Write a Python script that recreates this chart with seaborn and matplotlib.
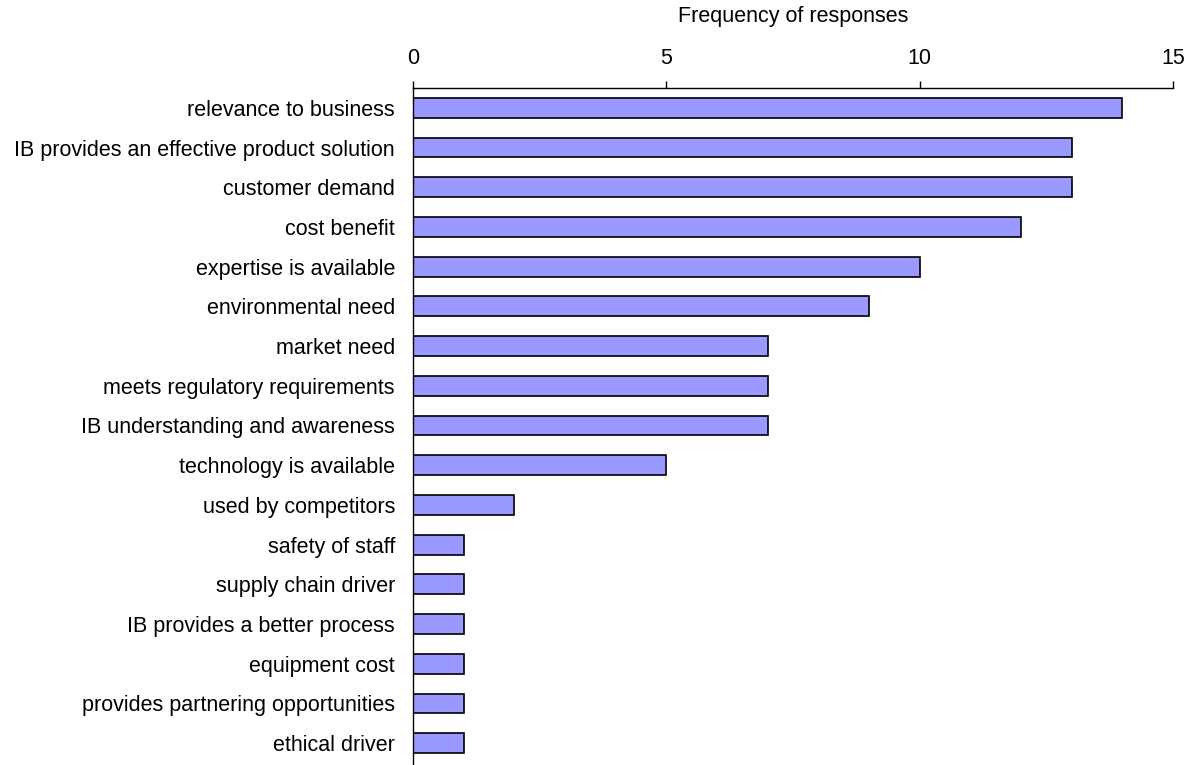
import pandas as pd
import seaborn as sns
import matplotlib.pyplot as plt

# Data
reasons = ['relevance to business', 'IB provides an effective product solution',
           'customer demand', 'cost benefit', 'expertise is available',
           'environmental need', 'market need', 'meets regulatory requirements',
           'IB understanding and awareness', 'technology is available',
           'used by competitors', 'safety of staff', 'supply chain driver',
           'IB provides a better process', 'equipment cost',
           'provides partnering opportunities', 'ethical driver']
counts = [14, 13, 13, 12, 10, 9, 7, 7, 7, 5, 2, 1, 1, 1, 1, 1, 1]
xticks = [0, 5, 10, 15]

data = pd.DataFrame({'Reason': reasons, 'Count': counts})

sns.set_style('white')
plt.rcParams['font.family'] = ['Liberation Sans', 'DejaVu Sans']
plt.rcParams['text.color'] = 'black'
plt.rcParams['axes.labelcolor'] = 'black'
plt.rcParams['xtick.color'] = 'black'
plt.rcParams['ytick.color'] = 'black'

fig = plt.figure(figsize=(11.96, 7.65), dpi=100)
ax = fig.add_axes([0.3453, 0.0, 0.6355, 0.885])

sns.barplot(x='Count', y='Reason', data=data, color='#9999FF',
            edgecolor='black', linewidth=1.2, width=0.5, saturation=1, ax=ax)

ax.set_xlim(0, 15)
ax.set_ylim(16.55, -0.5)
ax.set_xticks(xticks)
ax.xaxis.tick_top()
ax.xaxis.set_label_position('top')
ax.set_xlabel('Frequency of responses', fontsize=15.5, labelpad=19)
ax.set_ylabel('')
ax.tick_params(axis='x', direction='out', length=5, width=1, pad=8.5,
               labelsize=15.5, top=True, bottom=False)
ax.tick_params(axis='y', length=0, pad=13, labelsize=15.5)
for side in ['right', 'bottom']:
    ax.spines[side].set_visible(False)
for side in ['top', 'left']:
    ax.spines[side].set_color('black')
    ax.spines[side].set_linewidth(1)

fig.savefig('out.png', dpi=100)
